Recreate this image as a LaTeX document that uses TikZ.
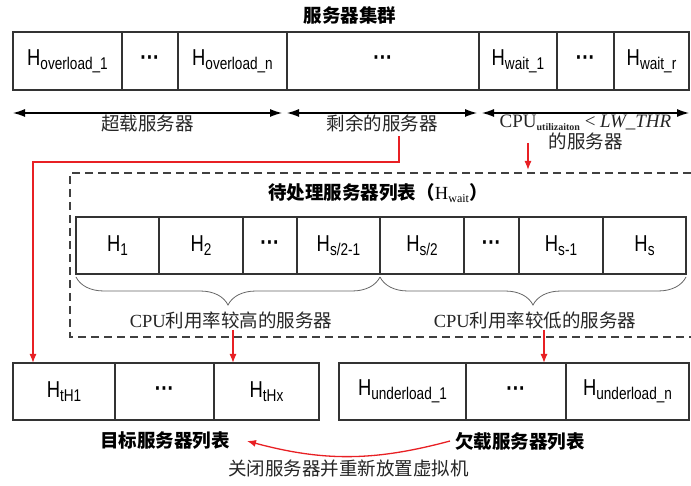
\documentclass[tikz,border=0pt]{standalone}
\usepackage{fontspec}
\setmainfont{Liberation Serif}
\newfontfamily\cjk{Noto Sans CJK SC}
\newfontfamily\hfont[FakeStretch=0.8]{Liberation Sans}
\usetikzlibrary{positioning,arrows.meta,decorations.pathreplacing}

\definecolor{flowred}{RGB}{232,32,36}
\newcommand{\srv}[1]{{\hfont\fontsize{23}{23}\selectfont H\raisebox{-4pt}{\fontsize{17}{17}\selectfont #1}}}
\newcommand{\ellip}{{\hfont\bfseries\fontsize{24}{24}\selectfont ···}}

\tikzset{
  cell/.style={draw=black!80, line width=1.1pt, minimum height=57pt, inner sep=0pt, outer sep=0pt},
  span/.style={{Latex[length=12pt,width=8pt]}-{Latex[length=12pt,width=8pt]}, line width=1.1pt},
  flow/.style={-{Latex[length=9pt,width=7pt]}, draw=flowred, line width=1.3pt},
  lbl/.style={font=\cjk\fontsize{18.5}{20}\selectfont, text=black!85, inner sep=1pt},
  ttl/.style={font=\cjk\bfseries\fontsize{18.5}{20}\selectfont, inner sep=1pt},
  brace/.style={decorate, decoration={brace, amplitude=28pt}, draw=black!60, line width=0.8pt},
  dashbox/.style={dashed, dash pattern=on 8pt off 5pt, draw=black!75, line width=1.1pt},
}

\begin{document}
\begin{tikzpicture}[x=1pt,y=-1pt]
    \useasboundingbox (0,0) rectangle (691,486);
    % Server cluster
    \node[ttl] (title) at (350,15) {服务器集群};
    \node[cell, minimum height=58pt, minimum width=109pt] (ov1) at (67.5,61) {\srv{overload\_1}};
    \node[cell, minimum height=58pt, minimum width=56pt, right=0pt of ov1] (d1) {\ellip};
    \node[cell, minimum height=58pt, minimum width=109pt, right=0pt of d1] (ovn) {\srv{overload\_n}};
    \node[cell, minimum height=58pt, minimum width=192pt, right=0pt of ovn] (d2) {\ellip};
    \node[cell, minimum height=58pt, minimum width=78pt, right=0pt of d2] (w1) {\srv{wait\_1}};
    \node[cell, minimum height=58pt, minimum width=57pt, right=0pt of w1] (d3) {\ellip};
    \node[cell, minimum height=58pt, minimum width=75pt, right=0pt of d3] (wr) {\srv{wait\_r}};
    % Groups
    \draw[span] ([yshift=-23pt]ov1.south west) -- ([yshift=-23pt, xshift=-5pt]ovn.south east)
        node[midway, below, lbl] (over) {超载服务器};
    \draw[span] ([yshift=-23pt]d2.south west) -- ([yshift=-23pt, xshift=-2pt]d2.south east)
        node[midway, below, lbl] (rest) {剩余的服务器};
    \draw[span] ([yshift=-23pt, xshift=3pt]w1.south west) -- ([yshift=-23pt]wr.south east)
        node[midway, below, lbl] (low) {\rmfamily\fontsize{19}{20}\selectfont CPU\raisebox{-3pt}{\fontsize{10}{10}\selectfont\bfseries utilizaiton} < \textit{LW\_THR}};
    \node[lbl, below=0pt of low] (lowb) {的服务器};
    % Waiting list
    \node[minimum width=621pt, minimum height=164pt, inner sep=0pt, outer sep=0pt] (waitbox) at (380.5,255) {};
    \draw[dashbox] (waitbox.north east) -- (waitbox.north west) -- (waitbox.south west) -- (waitbox.south east);
    \node[ttl] (wtitle) at (378,193) {待处理服务器列表（{\rmfamily\mdseries H\raisebox{-3pt}{\fontsize{12}{12}\selectfont wait}}）};
    \node[cell, minimum width=83pt] (h1) at (117.5,245.5) {\srv{1}};
    \node[cell, minimum width=84pt, right=0pt of h1] (h2) {\srv{2}};
    \node[cell, minimum width=54pt, right=0pt of h2] (d4) {\ellip};
    \node[cell, minimum width=83pt, right=0pt of d4] (hs21) {\srv{s/2-1}};
    \node[cell, minimum width=84pt, right=0pt of hs21] (hs2) {\srv{s/2}};
    \node[cell, minimum width=55pt, right=0pt of hs2] (d5) {\ellip};
    \node[cell, minimum width=84pt, right=0pt of d5] (hs1) {\srv{s-1}};
    \node[cell, minimum width=83pt, right=0pt of hs1] (hs) {\srv{s}};
    \draw[brace] ([yshift=-3pt]hs21.south east) -- ([yshift=-3pt]h1.south west);
    \draw[brace] ([yshift=-3pt]hs.south east) -- ([yshift=-3pt]hs2.south west);
    \node[lbl] (hi) at (231,320) {{\rmfamily CPU}利用率较高的服务器};
    \node[lbl] (lo) at (535,320) {{\rmfamily CPU}利用率较低的服务器};
    % Target and underloaded lists
    \node[cell, minimum width=102pt] (t1) at (64,391.5) {\srv{tH1}};
    \node[cell, minimum width=99pt, right=0pt of t1] (d6) {\ellip};
    \node[cell, minimum width=105pt, right=0pt of d6] (tx) {\srv{tHx}};
    \node[cell, minimum width=127pt] (u1) at (402.5,391.5) {\srv{underload\_1}};
    \node[cell, minimum width=100pt, right=0pt of u1] (d7) {\ellip};
    \node[cell, minimum width=123pt, right=0pt of d7] (un) {\srv{underload\_n}};
    \node[ttl] (tlist) at (165,441) {目标服务器列表};
    \node[ttl] (ulist) at (520,441) {欠载服务器列表};
    % Red flows
    \coordinate (turn) at (33,162);
    \draw[flow] ([xshift=17pt, yshift=-3pt]rest.south) |- (turn) -- (turn |- t1.north);
    \coordinate (drop) at (528,143);
    \draw[flow, shorten >=3pt] (drop) -- (drop |- waitbox.north);
    \coordinate (hiout) at ([xshift=2pt]hi.south);
    \draw[flow] (hiout) -- (hiout |- tx.north);
    \coordinate (loout) at ([xshift=9pt]lo.south);
    \draw[flow] (loout) -- (loout |- d7.north);
    \draw[flow] ([xshift=-4pt]ulist.west) to[bend left=15]
        node[midway, below=2pt, lbl] (move) {关闭服务器并重新放置虚拟机} ([xshift=16pt]tlist.east);
\end{tikzpicture}
\end{document}
